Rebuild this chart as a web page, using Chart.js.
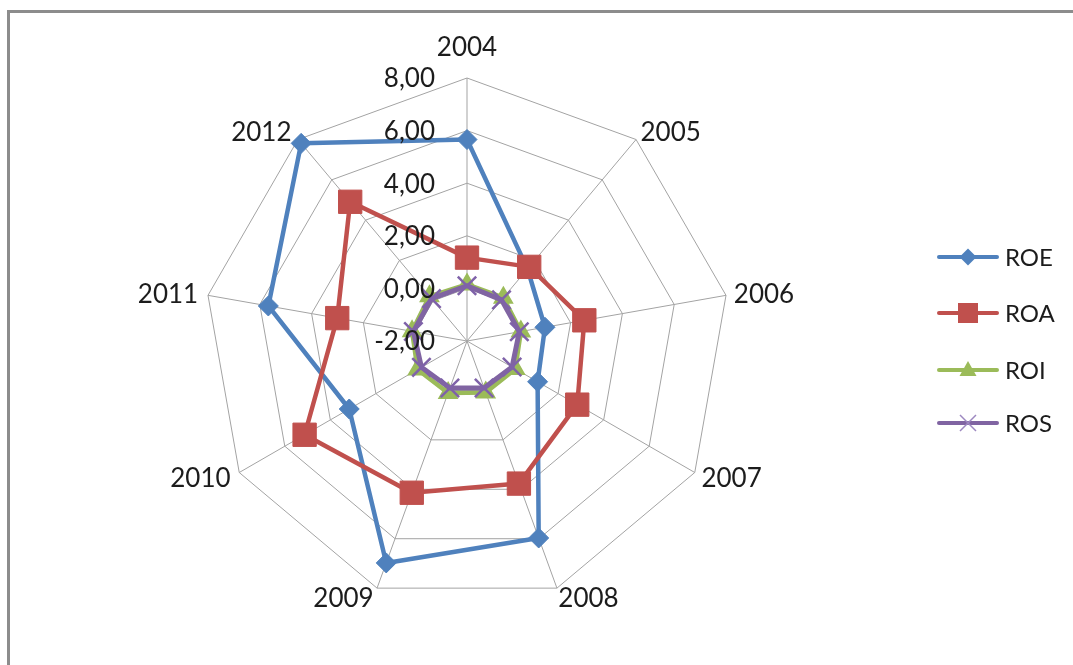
<!DOCTYPE html>
<html>
<head>
<meta charset="utf-8">
<script src="https://cdn.jsdelivr.net/npm/chart.js@4/dist/chart.umd.min.js"></script>
<style>
  html, body { margin: 0; padding: 0; background: #ffffff; }
  #wrap { position: relative; width: 1073px; height: 665px; overflow: hidden; }
  #frame { position: absolute; left: 7px; top: 10px; width: 1300px; height: 900px;
           border-left: 3px solid #8c8c8c; border-top: 3px solid #8c8c8c; }
  #c { position: absolute; left: 0; top: 0; }
</style>
</head>
<body>
<div id="wrap">
  <div id="frame"></div>
  <canvas id="c" width="1073" height="665"></canvas>
</div>
<script>
// Years on the spokes
const years = ['2004', '2005', '2006', '2007', '2008', '2009', '2010', '2011', '2012'];

// Ratios per year
const roe = [5.66, 1.58, 1.01, 1.10, 5.97, 6.98, 3.17, 5.67, 7.81];
const roa = [1.17, 1.68, 2.53, 2.84, 3.77, 4.14, 5.13, 3.01, 4.91];
const roi = [0.15, 0.15, 0.08, 0.12, 0.08, 0.10, 0.17, 0.12, 0.22];
const ros = [0.10, 0.04, 0.02, -0.02, -0.10, -0.10, 0.00, 0.07, 0.10];

// Radial axis range
const axisMin = -2;
const axisMax = 8;
const axisStep = 2;

const seriesNames = ['ROE', 'ROA', 'ROI', 'ROS'];
const colors = { ROE: '#4f81bd', ROA: '#c0504d', ROI: '#9bbb59', ROS: '#8064a2' };

const FONT = 'Lato, "Open Sans", sans-serif';
const CAP = 0.716;

function fmt(v) {
  return v.toFixed(2).replace('.', ',');
}

// Small marker glyphs used in the legend
function drawMarker(ctx, name, x, y) {
  ctx.save();
  ctx.fillStyle = colors[name];
  ctx.strokeStyle = colors[name];
  ctx.beginPath();
  if (name === 'ROE') {
    const h = 8.5;
    ctx.moveTo(x, y - h); ctx.lineTo(x + h, y); ctx.lineTo(x, y + h); ctx.lineTo(x - h, y);
    ctx.closePath(); ctx.fill();
  } else if (name === 'ROA') {
    ctx.rect(x - 10, y - 10, 20, 20); ctx.fill();
  } else if (name === 'ROI') {
    ctx.moveTo(x, y - 9); ctx.lineTo(x + 8.5, y + 6); ctx.lineTo(x - 8.5, y + 6);
    ctx.closePath(); ctx.fill();
  } else {
    ctx.strokeStyle = '#9d88c0';
    ctx.lineWidth = 1.5;
    const h = 8;
    ctx.moveTo(x - h, y - h); ctx.lineTo(x + h, y + h);
    ctx.moveTo(x + h, y - h); ctx.lineTo(x - h, y + h);
    ctx.stroke();
  }
  ctx.restore();
}

const radarText = {
  id: 'radarText',
  afterDatasetsDraw(chart) {
    const s = chart.scales.r;
    const ctx = chart.ctx;
    ctx.save();
    ctx.fillStyle = '#1c1c1c';

    // value labels along the upper spoke
    const tickSize = 26;
    ctx.font = tickSize + 'px ' + FONT;
    ctx.textAlign = 'right';
    ctx.textBaseline = 'alphabetic';
    s.ticks.forEach(t => {
      const y = s.yCenter - s.getDistanceFromCenterForValue(t.value);
      ctx.fillText(fmt(t.value), s.xCenter - 32, y + tickSize * CAP / 2);
    });

    // year labels outside the outer ring
    const catSize = 26;
    ctx.font = catSize + 'px ' + FONT;
    years.forEach((yr, i) => {
      const a = s.getIndexAngle(i);
      const sx = Math.sin(a);
      const p = s.getPointPosition(i, s.drawingArea + 10);
      if (Math.abs(sx) < 0.01) {
        ctx.textAlign = 'center';
        ctx.fillText(yr, p.x, p.y - 12);
      } else {
        ctx.textAlign = sx > 0 ? 'left' : 'right';
        ctx.fillText(yr, p.x - (sx > 0 ? 2 : 0), p.y + catSize * CAP / 2);
      }
    });

    // legend
    const rows = [257, 313, 370, 423];
    const legSize = 24;
    ctx.font = legSize + 'px ' + FONT;
    ctx.textAlign = 'left';
    seriesNames.forEach((name, i) => {
      const y = rows[i];
      ctx.save();
      ctx.strokeStyle = colors[name];
      ctx.lineWidth = 4;
      ctx.lineCap = 'round';
      ctx.beginPath();
      ctx.moveTo(939, y); ctx.lineTo(997, y);
      ctx.stroke();
      ctx.restore();
      drawMarker(ctx, name, 968, y);
      ctx.fillStyle = '#1c1c1c';
      ctx.fillText(name, 1005, y + legSize * CAP / 2);
    });
    ctx.restore();
  }
};

function series(label, data, style, radius, order, extra) {
  return Object.assign({
    label: label,
    data: data,
    borderColor: colors[label],
    backgroundColor: colors[label],
    pointBackgroundColor: colors[label],
    pointBorderColor: colors[label],
    borderWidth: 4.5,
    borderJoinStyle: 'round',
    borderCapStyle: 'round',
    fill: false,
    tension: 0,
    pointStyle: style,
    pointRadius: radius,
    pointHoverRadius: radius,
    pointBorderWidth: 1,
    order: order
  }, extra || {});
}

new Chart(document.getElementById('c'), {
  type: 'radar',
  data: {
    labels: years,
    datasets: [
      series('ROE', roe, 'rectRot', 10, 3),
      series('ROA', roa, 'rect', 16.5, 2),
      series('ROI', roi, 'triangle', 10.5, 1, { pointBorderWidth: 1.5 }),
      series('ROS', ros, 'crossRot', 13, 0, { pointBorderColor: '#7f62a9', pointBorderWidth: 2.5, borderWidth: 5 })
    ]
  },
  options: {
    responsive: false,
    animation: false,
    devicePixelRatio: 1,
    layout: { padding: { left: 204, right: 343, top: 78, bottom: 61 } },
    plugins: {
      legend: { display: false },
      tooltip: { enabled: false }
    },
    scales: {
      r: {
        min: axisMin,
        max: axisMax,
        ticks: { stepSize: axisStep, display: false },
        pointLabels: { display: false },
        grid: { color: '#a3a3a3', lineWidth: 1 },
        angleLines: { color: '#a3a3a3', lineWidth: 1 }
      }
    }
  },
  plugins: [radarText]
});
</script>
</body>
</html>
